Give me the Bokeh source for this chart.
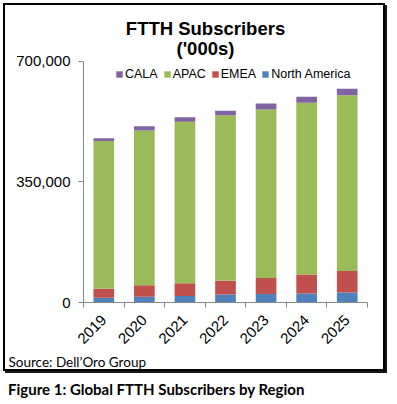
from bokeh.plotting import figure
from bokeh.layouts import column
from bokeh.models import (Label, Legend, LegendItem, Range1d, LinearAxis, FixedTicker,
                          NumeralTickFormatter, ColumnDataSource, Title, Div)
from bokeh.embed import file_html
from bokeh.resources import INLINE

years = ["2019", "2020", "2021", "2022", "2023", "2024", "2025"]
north_america = [14000, 17000, 19000, 23000, 25000, 26000, 29000]
emea = [26000, 33000, 37000, 40000, 46000, 55000, 62000]
apac = [428000, 449000, 468000, 480000, 489000, 498000, 510000]
cala = [8000, 12000, 13000, 13000, 17000, 18000, 19000]
y_ticks = [0, 350000, 700000]

series = ["North America", "EMEA", "APAC", "CALA"]
colors = ["#4F81BD", "#C0504D", "#9BBB59", "#8064A2"]

# category slots on a numeric axis: centres at i+0.5, boundaries at integers
centres = [i + 0.5 for i in range(len(years))]
edges = list(range(len(years) + 1))

source = ColumnDataSource(dict(x=centres, **{"North America": north_america, "EMEA": emea,
                                             "APAC": apac, "CALA": cala}))

FONT = "Liberation Sans"
AX = "#868686"

# plot area: value axis spans 243 px for 0..700,000; frame extends 56 px higher for titles/legend
y_top = 700000 * 299 / 243

p = figure(x_range=Range1d(0, len(years)), y_range=Range1d(0, y_top),
           width=378, height=364, output_backend="svg", toolbar_location=None,
           x_axis_location=None, y_axis_location=None,
           min_border_left=78, min_border_right=16, min_border_top=0, min_border_bottom=65)
p.margin = (5, 0, 0, 5)
p.styles = {"box-shadow": "0 0 0 2px #000000, 2px 2px 0 2px #151515"}
p.outline_line_color = None
p.background_fill_color = "white"
p.border_fill_color = "white"
p.xgrid.visible = False
p.ygrid.visible = False

renderers = p.vbar_stack(series, x="x", width=0.51, color=colors, line_color=None,
                         source=source)

yaxis = LinearAxis(ticker=FixedTicker(ticks=y_ticks, minor_ticks=[]),
                   formatter=NumeralTickFormatter(format="0,0"), bounds=(0, 700000))
yaxis.axis_line_color = AX
yaxis.major_tick_line_color = AX
yaxis.major_tick_out = 5
yaxis.major_tick_in = 0
yaxis.minor_tick_line_color = None
yaxis.major_label_standoff = 8
yaxis.major_label_text_font = FONT
yaxis.major_label_text_font_size = "15px"
yaxis.major_label_text_color = "black"
p.add_layout(yaxis, "left")

xaxis = LinearAxis(ticker=FixedTicker(ticks=centres, minor_ticks=edges))
xaxis.major_label_overrides = {c: y for c, y in zip(centres, years)}
xaxis.axis_line_color = AX
xaxis.major_tick_line_color = None
xaxis.major_tick_out = 0
xaxis.major_tick_in = 0
xaxis.minor_tick_line_color = AX
xaxis.minor_tick_out = 5
xaxis.minor_tick_in = 0
xaxis.major_label_orientation = 0.785398
xaxis.major_label_standoff = 10
xaxis.major_label_text_font = FONT
xaxis.major_label_text_font_size = "15px"
xaxis.major_label_text_color = "black"
p.add_layout(xaxis, "below")

# source note, under the axis labels, left-aligned near the box edge
p.add_layout(Title(text="Source: Dell\u2019Oro Group", align="left", offset=-75, standoff=0,
                   text_font="Lato", text_font_size="13.5px", text_font_style="normal",
                   text_color="black"), "below")

items = [LegendItem(label=s, renderers=[r]) for s, r in zip(series, renderers)][::-1]
legend = Legend(items=items, orientation="horizontal", location=(32, 221))
legend.glyph_width = 8
legend.glyph_height = 8
legend.label_height = 12
legend.label_standoff = 2
legend.spacing = 5
legend.padding = 0
legend.margin = 0
legend.border_line_color = None
legend.background_fill_alpha = 0
legend.label_text_font = FONT
legend.label_text_font_size = "12.5px"
legend.label_text_color = "black"
p.add_layout(legend, "center")

p.add_layout(Label(x=122, y=274, x_units="screen", y_units="screen", text="FTTH Subscribers",
                   text_font=FONT, text_font_size="18.5px", text_font_style="bold",
                   text_align="center", text_baseline="alphabetic", text_color="black"))
p.add_layout(Label(x=122, y=254, x_units="screen", y_units="screen", text="('000s)",
                   text_font=FONT, text_font_size="18.5px", text_font_style="bold",
                   text_align="center", text_baseline="alphabetic", text_color="black"))

caption = Div(text='<span style="font-family: Lato; font-weight: bold; font-size: 15px; '
                   'color: #000000; white-space: nowrap;">'
                   'Figure 1: Global FTTH Subscribers by Region</span>',
              width=380, height=22)
caption.margin = (10, 0, 0, 8)

page = column(p, caption, spacing=0)
open("out.html", "w").write(file_html(page, INLINE))
